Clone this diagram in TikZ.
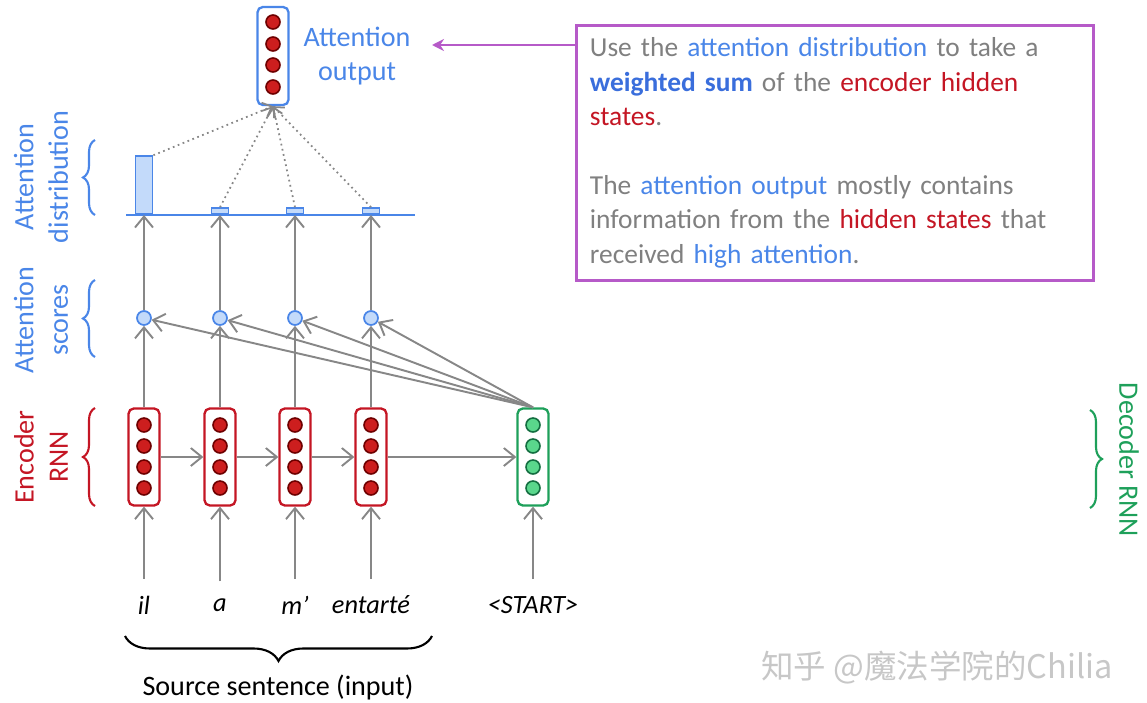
\documentclass[tikz,border=0pt]{standalone}
\usepackage{fontspec}
\setmainfont{Carlito}
\newfontfamily\cjkfont{Noto Sans CJK SC}
\usetikzlibrary{arrows.meta,decorations.pathreplacing}

\definecolor{attblue}{RGB}{74,134,232}
\definecolor{sumblue}{RGB}{58,110,220}
\definecolor{encred}{RGB}{196,22,36}
\definecolor{decgreen}{RGB}{30,160,90}
\definecolor{txtgray}{RGB}{128,128,128}
\definecolor{boxpurple}{RGB}{182,90,200}
\definecolor{arrgray}{RGB}{135,135,135}
\definecolor{lightblue}{RGB}{195,218,250}

\tikzset{
	rnnbox/.style={draw, rounded corners=3pt, line width=1.3pt, fill=white,
		minimum width=0.62cm, minimum height=1.94cm},
	encunit/.style={fill={rgb,255:red,205;green,30;blue,30}, draw={rgb,255:red,110;green,0;blue,0}, line width=0.9pt},
	decunit/.style={fill={rgb,255:red,90;green,215;blue,140}, draw={rgb,255:red,20;green,110;blue,65}, line width=0.9pt},
	score/.style={circle, draw=attblue, fill=lightblue, line width=1pt, minimum size=0.28cm, inner sep=0pt},
	bar/.style={draw=attblue, fill=lightblue, line width=1pt, inner sep=0pt, minimum width=0.34cm, anchor=south},
	flow/.style={draw=arrgray, line width=1.1pt, -{Straight Barb[length=2.2mm,width=3.6mm]}},
	weight/.style={draw=arrgray, line width=1pt, dotted, -{Straight Barb[length=1.6mm,width=3mm]}},
	brc/.style={decorate, decoration={brace, amplitude=0.24cm}, line width=1.2pt},
	word/.style={font=\fontsize{15}{18}\selectfont\itshape},
	lbl/.style={font=\fontsize{16}{19.6}\selectfont, align=center},
}

\begin{document}
\begin{tikzpicture}[x=0.02cm, y=-0.02cm]
	\useasboundingbox (0,0) rectangle (1147,703);

	% === NODES === (((
	\node[rnnbox, draw=encred] (enc1) at (144,457) {};
	\node[rnnbox, draw=encred] (enc2) at (220,457) {};
	\node[rnnbox, draw=encred] (enc3) at (295,457) {};
	\node[rnnbox, draw=encred] (enc4) at (371,457) {};
	\node[rnnbox, draw=decgreen] (dec) at (533,457) {};
	\node[rnnbox, draw=attblue, minimum height=1.96cm] (out) at (273,56) {};

	\foreach \x in {144,220,295,371} {
		\foreach \y in {425,446,467,488}
			\draw[encunit] (\x,\y) circle (0.14cm);
	}
	\foreach \y in {425,446,467,488}
		\draw[decunit] (533,\y) circle (0.14cm);
	\foreach \y in {22,44,65,87}
		\draw[encunit] (273,\y) circle (0.14cm);

	\node[score] (s1) at (144,318) {};
	\node[score] (s2) at (220,318) {};
	\node[score] (s3) at (295,318) {};
	\node[score] (s4) at (371,318) {};

	\node[bar, minimum height=1.16cm] (b1) at (144,215) {};
	\node[bar, minimum height=0.12cm] (b2) at (220,215) {};
	\node[bar, minimum height=0.12cm] (b3) at (295,215) {};
	\node[bar, minimum height=0.12cm] (b4) at (371,215) {};
	\coordinate (base0) at (126,215);
	\coordinate (base1) at (415,215);

	\node[word] (w1) at (144,605) {il};
	\node[word] (w2) at (220,605) {a};
	\node[word] (w3) at (295,605) {m’};
	\node[word] (w4) at (371,605) {entarté};
	\node[word] (w5) at (533,605) {<START>};

	\node[lbl, text=attblue] (outlbl) at (357,56) {Attention\\output};
	\node[lbl, text=attblue, rotate=90] (distlbl) at (41,177) {Attention\\distribution};
	\node[lbl, text=attblue, rotate=90] (scorelbl) at (41,320) {Attention\\scores};
	\node[lbl, text=encred, rotate=90] (enclbl) at (41,457) {Encoder\\RNN};
	\node[lbl, text=decgreen, rotate=-90] (declbl) at (1129,460) {Decoder RNN};
	\node[lbl] (srclbl) at (278,687) {Source sentence (input)};

	\node[draw=boxpurple, line width=1.6pt, anchor=north west, inner xsep=0.24cm,
		minimum width=10.34cm, minimum height=5.1cm, text width=9.8cm, align=left,
		text=txtgray, font=\fontsize{15.6}{19.6}\selectfont] (note) at (575,24) {%
		Use the \textcolor{attblue}{attention distribution} to take a\\
		\textcolor{sumblue}{\bfseries weighted sum} of the \textcolor{encred}{encoder hidden}\\
		\textcolor{encred}{states}.\\[0.69cm]
		The \textcolor{attblue}{attention output} mostly contains\\
		information from the \textcolor{encred}{hidden states} that\\
		received \textcolor{attblue}{high attention}.};
	\coordinate (ptr) at (432,45);

	\node[font=\cjkfont\fontsize{18.5}{22}\selectfont, text=black!22] (mark) at (937,668) {知乎 @魔法学院的Chilia};
	% )))

	% === LINES === (((
	\draw[attblue, line width=1.2pt] (base0) -- (base1);

	\foreach \i in {1,2,3,4} {
		\draw[flow, shorten <=0.22cm] (w\i.north) -- (enc\i.south);
		\draw[flow] (enc\i.north) -- (s\i.south);
		\draw[flow] (s\i.north) -- (b\i.south);
		\draw[flow] (dec.north) -- (s\i);
	}
	\draw[flow, shorten <=0.22cm] (w5.north) -- (dec.south);

	\draw[flow] (enc1.east) -- (enc2.west);
	\draw[flow] (enc2.east) -- (enc3.west);
	\draw[flow] (enc3.east) -- (enc4.west);
	\draw[flow] (enc4.east) -- (dec.west);

	\draw[weight] (b1.north east) -- (out.south);
	\draw[weight] (b2.north) -- (out.south);
	\draw[weight] (b3.north) -- (out.south);
	\draw[weight] (b4.north) -- (out.south);

	\draw[boxpurple, line width=1.6pt, -{Stealth[length=2.4mm,width=2.4mm]}] (note.north west |- ptr) -- (ptr);
	% )))

	% === BRACES === (((
	\draw[brc, attblue] (95,215) -- (95,140);
	\draw[brc, attblue] (95,357) -- (95,280);
	\draw[brc, encred] (95,506) -- (95,408);
	\draw[brc, decgreen] (1090,410) -- (1090,508);
	\draw[brc, decoration={amplitude=0.5cm}] (432,636) -- (125,636);
	% )))

\end{tikzpicture}
\end{document}
